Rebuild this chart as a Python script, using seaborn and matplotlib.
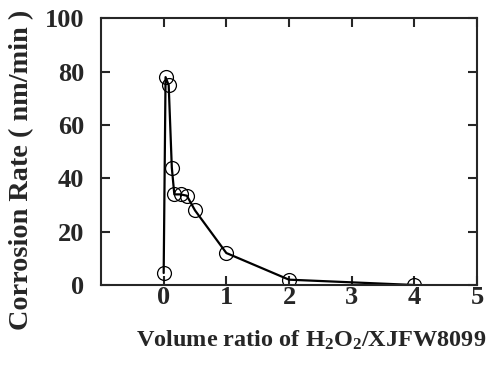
import seaborn as sns
import matplotlib.pyplot as plt
import pandas as pd

# values
ratio = [0.0, 0.03, 0.08, 0.13, 0.17, 0.27, 0.37, 0.5, 1.0, 2.0, 4.0]
rate = [4.5, 78, 75, 44, 34, 34, 33.5, 28, 12, 2, 0]
x_ticks = [0, 1, 2, 3, 4, 5]
y_ticks = [0, 20, 40, 60, 80, 100]

df = pd.DataFrame({'ratio': ratio, 'rate': rate})

sns.set_style('ticks')
plt.rcParams['font.family'] = ['Liberation Serif', 'DejaVu Serif']
plt.rcParams['font.weight'] = 'bold'
plt.rcParams['mathtext.default'] = 'regular'

fig = plt.figure(figsize=(4.87, 3.66), dpi=100)
ax = fig.add_axes([0.2074, 0.2213, 0.7721, 0.7282])

sns.lineplot(data=df, x='ratio', y='rate', sort=False, ax=ax, color='black',
             linewidth=1.6, marker='o', markersize=10, markerfacecolor='none',
             markeredgecolor='black', markeredgewidth=0.9)

ax.set_xlim(-1, 5)
ax.set_ylim(0, 100)
ax.set_xticks(x_ticks)
ax.set_yticks(y_ticks)
ax.tick_params(direction='in', length=6.5, width=1.5, top=True, right=True,
               labelsize=19)
ax.tick_params(axis='x', pad=1)
ax.tick_params(axis='y', pad=12)
for t in ax.get_xticklabels() + ax.get_yticklabels():
    t.set_fontweight('bold')
for s in ax.spines.values():
    s.set_linewidth(1.5)

ax.set_xlabel('')
ax.set_ylabel('')
fig.text(0.639, 0.07, 'Volume ratio of H$_2$O$_2$/XJFW8099', ha='center', va='center',
         fontsize=17.5, fontweight='bold')
fig.text(0.045, 0.535, 'Corrosion Rate ( nm/min )', ha='center', va='center',
         rotation=90, fontsize=20.3, fontweight='bold')

fig.savefig('out.png', dpi=100)
